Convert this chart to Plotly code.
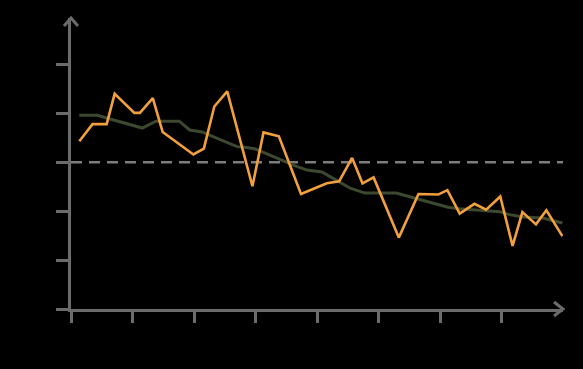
import plotly.graph_objects as go

# Data
orange_x = [1.35, 3.5, 5.8, 7.1, 10.3, 11.2, 13.3, 14.9, 19.9, 21.6, 23.3, 25.4, 29.5, 31.3, 33.8,
            37.4, 41.6, 43.6, 45.7, 47.4, 49.2, 53.3, 56.5, 59.7, 61.2, 63.2, 65.6, 67.5, 69.8,
            71.8, 73.4, 75.6, 77.3, 79.9]
orange_y = [0.043, 0.078, 0.078, 0.140, 0.101, 0.101, 0.131, 0.062, 0.016, 0.028, 0.114, 0.145,
            -0.049, 0.061, 0.053, -0.065, -0.043, -0.039, 0.009, -0.043, -0.031, -0.154, -0.065,
            -0.066, -0.057, -0.105, -0.085, -0.097, -0.070, -0.171, -0.102, -0.127, -0.098, -0.151]

green_x = [1.35, 4.3, 6.2, 11.6, 13.8, 17.6, 19.3, 21.3, 23.2, 27.0, 28.6, 30.0, 33.8, 35.9, 38.4,
           40.8, 43.2, 45.4, 47.8, 52.9, 56.7, 61.3, 63.2, 65.4, 68.1, 69.7, 71.3, 73.5, 76.7, 79.9]
green_y = [0.096, 0.096, 0.089, 0.070, 0.084, 0.084, 0.066, 0.062, 0.052, 0.032, 0.030, 0.027,
           0.007, -0.005, -0.016, -0.020, -0.037, -0.053, -0.063, -0.063, -0.076, -0.092, -0.095,
           -0.097, -0.099, -0.101, -0.107, -0.112, -0.114, -0.124]

x_ticks = [0, 10, 20, 30, 40, 50, 60, 70]
y_ticks = [-0.3, -0.2, -0.1, 0, 0.1, 0.2]
baseline = 0

AXIS = "#6b6b6b"
fig = go.Figure()
fig.add_trace(go.Scatter(x=green_x, y=green_y, mode="lines",
                         line=dict(color="#3d4830", width=3), showlegend=False))
fig.add_trace(go.Scatter(x=orange_x, y=orange_y, mode="lines",
                         line=dict(color="#f2a03d", width=2.6), showlegend=False))

fig.add_shape(type="line", xref="x", yref="y", x0=0, x1=80, y0=baseline, y1=baseline,
              line=dict(color="#7c7c7c", width=2.5, dash="11px,7px"), layer="below")

# arrow heads
fig.add_shape(type="path", xref="paper", yref="paper", xsizemode="pixel", ysizemode="pixel",
              xanchor=1, yanchor=0, path="M -9,7 L 0,0 L -9,-7",
              line=dict(color=AXIS, width=3))
fig.add_shape(type="path", xref="paper", yref="paper", xsizemode="pixel", ysizemode="pixel",
              xanchor=0, yanchor=1, path="M -7,-8 L 0,0 L 7,-8",
              line=dict(color=AXIS, width=3))

fig.update_layout(
    width=583, height=369,
    margin=dict(l=71, r=20, t=18, b=60),
    paper_bgcolor="black", plot_bgcolor="black",
    font=dict(family="Open Sans", size=12, color="black"),
    xaxis=dict(range=[0, 80], tickvals=x_ticks, showgrid=False, zeroline=False,
               showline=True, linecolor=AXIS, linewidth=3,
               ticks="outside", ticklen=11, tickwidth=3, tickcolor=AXIS),
    yaxis=dict(range=[-0.3, 0.295], tickvals=y_ticks, showgrid=False, zeroline=False,
               showline=True, linecolor=AXIS, linewidth=3,
               ticks="outside", ticklen=12, tickwidth=3, tickcolor=AXIS),
)

fig.write_html("out.html", config={"displayModeBar": False},
               post_script="document.body.style.margin='0';document.body.style.background='black';")
